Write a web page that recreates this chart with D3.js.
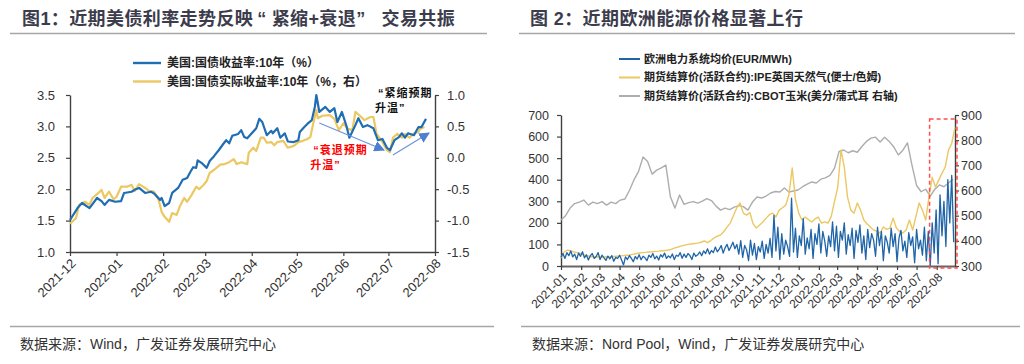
<!DOCTYPE html>
<html lang="zh">
<head>
<meta charset="UTF-8">
<title>美债利率与欧洲能源价格</title>
<script src="https://d3js.org/d3.v7.min.js"></script>
<style>
  body { margin: 0; background: #fff; }
  svg { display: block; font-family: "Liberation Sans", Arial, sans-serif; }
  .cjk { font-family: "Liberation Sans", "Noto Sans CJK SC", sans-serif; }
</style>
</head>
<body>
<div id="viz"></div>
<script>
// ---------- 图1：美国国债收益率（左轴）与实际收益率（右轴） ----------
const ust10y = [
  ["2021-12-01",1.51],["2021-12-06",1.70],["2021-12-09",1.78],["2021-12-14",1.70],["2021-12-19",1.86],
  ["2021-12-22",1.81],["2021-12-24",1.75],["2021-12-27",1.83],["2021-12-31",1.80],["2022-01-04",1.81],
  ["2022-01-06",1.94],["2022-01-11",1.96],["2022-01-13",1.99],["2022-01-16",2.02],["2022-01-20",1.94],
  ["2022-01-24",1.96],["2022-01-26",1.93],["2022-01-30",1.83],["2022-01-31",1.86],["2022-02-02",1.73],
  ["2022-02-05",1.78],["2022-02-07",1.94],["2022-02-11",2.02],["2022-02-14",2.15],["2022-02-17",2.18],
  ["2022-02-19",2.27],["2022-02-21",2.35],["2022-02-23",2.34],["2022-02-24",2.46],["2022-02-27",2.41],
  ["2022-03-02",2.34],["2022-03-04",2.45],["2022-03-07",2.53],["2022-03-10",2.62],["2022-03-13",2.72],
  ["2022-03-15",2.78],["2022-03-17",2.73],["2022-03-19",2.85],["2022-03-23",2.88],["2022-03-25",2.94],
  ["2022-03-27",2.83],["2022-03-29",2.81],["2022-04-01",2.89],["2022-04-04",2.97],["2022-04-06",3.12],
  ["2022-04-08",3.07],["2022-04-11",2.86],["2022-04-14",2.93],["2022-04-15",2.89],["2022-04-18",2.97],
  ["2022-04-20",2.82],["2022-04-23",2.89],["2022-04-25",2.76],["2022-04-29",2.75],["2022-05-02",2.78],
  ["2022-05-03",2.91],["2022-05-06",2.99],["2022-05-08",3.04],["2022-05-11",3.10],["2022-05-13",3.31],
  ["2022-05-14",3.50],["2022-05-16",3.23],["2022-05-20",3.31],["2022-05-23",3.23],["2022-05-26",3.29],
  ["2022-05-28",3.07],["2022-05-31",3.23],["2022-06-03",3.01],["2022-06-05",2.82],["2022-06-09",3.02],
  ["2022-06-11",3.13],["2022-06-14",2.99],["2022-06-17",3.02],["2022-06-21",2.97],["2022-06-24",2.78],
  ["2022-06-27",2.80],["2022-06-30",2.66],["2022-07-02",2.62],["2022-07-05",2.78],["2022-07-08",2.83],
  ["2022-07-10",2.89],["2022-07-12",2.82],["2022-07-14",2.89],["2022-07-18",2.86],["2022-07-21",2.99],
  ["2022-07-23",2.99],["2022-07-26",3.12]
];
const tipsReal10y = [
  ["2021-12-01",-1.05],["2021-12-05",-0.96],["2021-12-07",-0.75],["2021-12-11",-0.70],["2021-12-14",-0.75],
  ["2021-12-16",-0.64],["2021-12-20",-0.56],["2021-12-22",-0.51],["2021-12-24",-0.64],["2021-12-27",-0.54],
  ["2021-12-30",-0.66],["2022-01-01",-0.62],["2022-01-04",-0.46],["2022-01-08",-0.46],["2022-01-11",-0.43],
  ["2022-01-13",-0.53],["2022-01-16",-0.42],["2022-01-20",-0.48],["2022-01-23",-0.53],["2022-01-26",-0.54],
  ["2022-01-29",-0.67],["2022-01-31",-0.86],["2022-02-02",-0.94],["2022-02-05",-1.02],["2022-02-07",-0.88],
  ["2022-02-10",-0.91],["2022-02-12",-0.78],["2022-02-15",-0.64],["2022-02-17",-0.70],["2022-02-20",-0.59],
  ["2022-02-23",-0.46],["2022-02-25",-0.50],["2022-02-28",-0.43],["2022-03-02",-0.37],["2022-03-04",-0.24],
  ["2022-03-07",-0.19],["2022-03-11",-0.11],["2022-03-14",-0.10],["2022-03-17",-0.07],["2022-03-20",-0.02],
  ["2022-03-22",-0.10],["2022-03-25",-0.07],["2022-03-29",-0.10],["2022-03-30",0.08],["2022-04-02",0.16],
  ["2022-04-04",0.11],["2022-04-07",0.32],["2022-04-09",0.32],["2022-04-11",0.24],["2022-04-14",0.25],
  ["2022-04-16",0.20],["2022-04-18",0.25],["2022-04-22",0.27],["2022-04-25",0.16],["2022-04-29",0.19],
  ["2022-05-02",0.25],["2022-05-05",0.27],["2022-05-08",0.30],["2022-05-10",0.33],["2022-05-12",0.55],
  ["2022-05-14",0.76],["2022-05-15",0.63],["2022-05-18",0.67],["2022-05-23",0.68],["2022-05-26",0.62],
  ["2022-05-29",0.44],["2022-06-01",0.55],["2022-06-04",0.46],["2022-06-07",0.44],["2022-06-09",0.73],
  ["2022-06-12",0.67],["2022-06-15",0.60],["2022-06-19",0.65],["2022-06-21",0.65],["2022-06-23",0.39],
  ["2022-06-27",0.25],["2022-06-30",0.12],["2022-07-02",0.09],["2022-07-04",0.32],["2022-07-07",0.38],
  ["2022-07-10",0.32],["2022-07-12",0.38],["2022-07-15",0.32],["2022-07-18",0.39],["2022-07-21",0.41],
  ["2022-07-22",0.46],["2022-07-25",0.49]
];
const ticksL1 = [1.0, 1.5, 2.0, 2.5, 3.0, 3.5];
const ticksR1 = [-1.5, -1.0, -0.5, 0.0, 0.5, 1.0];
const names1 = ["美国:国债收益率:10年（%）", "美国:国债实际收益率:10年（%，右）"];

// ---------- 图2：欧洲能源价格 ----------
const seriesStart2 = "2021-01-01";
// 欧洲电力系统均价，每3天读一个点（左轴）
const powerStep = 3;
const power = [
  40,58,35,62,48,70,42,55,30,60,   45,66,38,52,28,47,58,35,44,62,
  30,50,38,26,46,33,48,22,40,35,   50,28,5,42,30,48,36,20,44,32,
  52,29,45,38,25,50,40,58,33,46,   28,52,42,60,35,47,38,56,30,50,
  45,62,36,55,40,58,48,30,60,45,   52,65,48,70,58,80,55,72,62,88,
  66,78,95,60,85,100,72,90,110,80, 100,55,118,40,95,75,25,120,50,105,
  30,90,65,115,35,100,60,128,40,235, 70,180,30,150,55,120,90,45,315,65,
  175,40,140,95,220,55,130,80,170,35, 150,100,195,60,160,115,45,140,90,205,
  70,185,40,160,120,200,55,145,95,175, 35,165,110,190,60,140,30,170,85,150,
  120,45,180,95,160,25,140,110,60,175, 90,150,20,130,165,70,115,40,155,95,
  135,15,170,80,120,50,180,25,160,0, 200,60,260,10,330,140,300,90,400,200,
  420,110
];
// IPE英国天然气，每5天读一个点（左轴）
const gasStep = 5;
const gas = [
  37,65,74,70,65,62,58,51,48,44, 42,43,42,41,43,42,44,45,46,48,
  50,51,54,57,60,62,63,65,66,68, 69,71,72,74,78,84,88,93,97,100,
  102,104,106,110,116,108,118,130,138,144, 160,180,199,235,270,292,245,236,248,195,
  176,190,204,222,238,245,227,259,270,282, 330,454,310,245,213,227,215,204,218,227,
  199,205,199,230,300,366,537,458,319,259, 245,292,259,213,195,181,167,160,153,181,
  170,176,222,176,160,153,167,213,167,230, 292,259,213,319,412,366,398,430,458,537,
  569,643
];
// CBOT玉米，每7天读一个点（右轴）
const cornStep = 7;
const corn = [
  483,500,530,548,554,562,542,554,548,556, 542,554,548,562,566,600,642,675,733,715,
  665,681,690,701,575,530,582,545,552,556, 550,558,568,560,538,522,530,524,534,540,
  536,522,554,574,570,578,590,596,594,610, 594,598,602,615,625,634,630,645,650,660,
  689,755,761,750,758,752,775,795,808,812, 793,812,795,773,741,760,789,700,620,595,
  605,578,605,622,615,630,645
];
const ticksL2 = [0, 100, 200, 300, 400, 500, 600, 700];
const ticksR2 = [300, 400, 500, 600, 700, 800, 900];
const names2 = [
  "欧洲电力系统均价(EUR/MWh)",
  "期货结算价(活跃合约):IPE英国天然气(便士/色姆)",
  "期货结算价(活跃合约):CBOT玉米(美分/蒲式耳 右轴)"
];

const parse = d3.timeParse("%Y-%m-%d");
const fromPairs = arr => arr.map(d => ({ date: parse(d[0]), value: d[1] }));
const fromSteps = (start, step, vals) =>
  vals.map((v, i) => ({ date: d3.timeDay.offset(parse(start), i * step), value: v }));

const svg = d3.select('#viz').append('svg')
  .attr('width', 1024).attr('height', 364)
  .style('background', '#fff');

// arrow marker for the annotations
svg.append('defs').append('marker')
    .attr('id', 'arrow')
    .attr('viewBox', '0 0 10 10')
    .attr('refX', 9).attr('refY', 5)
    .attr('markerWidth', 9).attr('markerHeight', 9)
    .attr('orient', 'auto')
  .append('path')
    .attr('d', 'M0,0 L10,5 L0,10 z')
    .attr('fill', '#4f7fd0');

// titles and frame lines
const titles = [
  { x: 22, parts: [['图1：近期美债利率走势反映', 0], ['“', 4], ['紧缩+衰退', 5], ['”', 0], ['交易共振', 16]], x1: 10, x2: 487 },
  { x: 530, parts: [['图 2：近期欧洲能源价格显著上行', 0]], x1: 519, x2: 1015 }
];
titles.forEach(t => {
  const tx = svg.append('text')
    .attr('class', 'cjk')
    .attr('x', t.x).attr('y', 25)
    .attr('font-size', 18).attr('font-weight', 'bold')
    .attr('letter-spacing', 0.4)
    .attr('fill', '#3c3c4c');
  t.parts.forEach(p => tx.append('tspan').attr('dx', p[1]).text(p[0]));
  svg.append('line')
    .attr('x1', t.x1).attr('x2', t.x2).attr('y1', 33.5).attr('y2', 33.5)
    .attr('stroke', '#a6a6a6').attr('stroke-width', 1.3);
});
const sources = [
  { x: 20, text: '数据来源：Wind，广发证券发展研究中心', x1: 10, x2: 494 },
  { x: 532, text: '数据来源：Nord Pool，Wind，广发证券发展研究中心', x1: 521, x2: 1020 }
];
sources.forEach(s => {
  svg.append('line')
    .attr('x1', s.x1).attr('x2', s.x2).attr('y1', 326.5).attr('y2', 326.5)
    .attr('stroke', '#a6a6a6').attr('stroke-width', 1.3);
  svg.append('text')
    .attr('class', 'cjk')
    .attr('x', s.x).attr('y', 349)
    .attr('font-size', 14).attr('fill', '#333')
    .text(s.text);
});

function styleAxis(g, size) {
  g.selectAll('path.domain').attr('stroke', '#404040').attr('stroke-width', 1.4);
  g.selectAll('.tick line').attr('stroke', '#404040').attr('stroke-width', 1.2);
  g.selectAll('.tick text')
    .attr('fill', '#333')
    .attr('font-size', size)
    .attr('font-family', '"Liberation Sans", Arial, sans-serif');
}
function rotateLabels(g) {
  g.selectAll('.tick text')
    .attr('text-anchor', 'end')
    .attr('x', 0).attr('y', 0).attr('dy', '0.35em')
    .attr('transform', 'translate(3,9) rotate(-45)');
}

// ================= 图1 =================
{
  const blue = fromPairs(ust10y), gold = fromPairs(tipsReal10y);
  const x = d3.scaleTime().domain([parse('2021-12-01'), parse('2022-08-01')]).range([70, 435]);
  const yL = d3.scaleLinear().domain([1.0, 3.5]).range([252, 95]);
  const yR = d3.scaleLinear().domain([-1.5, 1.0]).range([252, 95]);

  const gx = svg.append('g').attr('transform', 'translate(0,252)')
    .call(d3.axisBottom(x).ticks(d3.timeMonth.every(1)).tickFormat(d3.timeFormat('%Y-%m'))
      .tickSize(4).tickSizeOuter(0));
  styleAxis(gx, 13); rotateLabels(gx);

  const gl = svg.append('g').attr('transform', 'translate(70,0)')
    .call(d3.axisLeft(yL).tickValues(ticksL1).tickFormat(d => d.toFixed(1))
      .tickSize(4).tickPadding(11).tickSizeOuter(0));
  styleAxis(gl, 13);

  const gr = svg.append('g').attr('transform', 'translate(435,0)')
    .call(d3.axisRight(yR).tickValues(ticksR1).tickFormat(d => d.toFixed(1))
      .tickSize(4).tickPadding(8).tickSizeOuter(0));
  styleAxis(gr, 13);

  svg.append('path').datum(gold)
    .attr('fill', 'none').attr('stroke', '#ebc862').attr('stroke-width', 2.2)
    .attr('stroke-linejoin', 'round')
    .attr('d', d3.line().x(d => x(d.date)).y(d => yR(d.value)));
  svg.append('path').datum(blue)
    .attr('fill', 'none').attr('stroke', '#1f6db3').attr('stroke-width', 2.2)
    .attr('stroke-linejoin', 'round')
    .attr('d', d3.line().x(d => x(d.date)).y(d => yL(d.value)));

  // legend
  const legColors = ['#1f6db3', '#ebc862'];
  names1.forEach((n, i) => {
    const ly = 63 + i * 18.5;
    svg.append('line').attr('x1', 133).attr('x2', 161).attr('y1', ly).attr('y2', ly)
      .attr('stroke', legColors[i]).attr('stroke-width', 2.4);
    svg.append('text').attr('class', 'cjk')
      .attr('x', 167).attr('y', ly).attr('dy', '0.36em')
      .attr('font-size', 12).attr('font-weight', 'bold').attr('fill', '#222')
      .text(n);
  });

  // annotations
  const notes = [
    { d: '2022-06-24', v: 0.97, lines: ['“紧缩预期', '升温”'], color: '#111', dx: [0, -3] },
    { d: '2022-05-12', v: 0.06, lines: ['“衰退预期', '升温”'], color: '#ff0000', dx: [0, -3] }
  ];
  notes.forEach(n => {
    n.lines.forEach((l, i) => {
      svg.append('text').attr('class', 'cjk')
        .attr('x', x(parse(n.d)) + n.dx[i]).attr('y', yR(n.v) + i * 15)
        .attr('font-size', 11).attr('font-weight', 'bold').attr('fill', n.color)
        .attr('letter-spacing', 1)
        .text(l);
    });
  });
  const arrows = [
    [['2022-05-16', 0.555], ['2022-06-28', 0.124]],
    [['2022-07-04', 0.045], ['2022-07-28', 0.395]]
  ];
  arrows.forEach(a => {
    svg.append('line')
      .attr('x1', x(parse(a[0][0]))).attr('y1', yR(a[0][1]))
      .attr('x2', x(parse(a[1][0]))).attr('y2', yR(a[1][1]))
      .attr('stroke', '#6b95d8').attr('stroke-width', 1.2)
      .attr('marker-end', 'url(#arrow)');
  });
}

// ================= 图2 =================
{
  const pw = fromSteps(seriesStart2, powerStep, power);
  const gs = fromSteps(seriesStart2, gasStep, gas);
  const cn = fromSteps(seriesStart2, cornStep, corn);
  const x = d3.scaleTime().domain([parse('2021-01-01'), parse('2022-08-29')]).range([561, 955]);
  const yL = d3.scaleLinear().domain([0, 700]).range([266, 115]);
  const yR = d3.scaleLinear().domain([300, 900]).range([266, 115]);

  const gx = svg.append('g').attr('transform', 'translate(0,266)')
    .call(d3.axisBottom(x).ticks(d3.timeMonth.every(1)).tickFormat(d3.timeFormat('%Y-%m'))
      .tickSize(4).tickSizeOuter(0));
  styleAxis(gx, 12); rotateLabels(gx);
  gx.select('path.domain').attr('stroke', '#666').attr('stroke-width', 1.8);

  const gl = svg.append('g').attr('transform', 'translate(561,0)')
    .call(d3.axisLeft(yL).tickValues(ticksL2).tickSize(4).tickPadding(8).tickSizeOuter(0));
  styleAxis(gl, 12.5);

  const gr = svg.append('g').attr('transform', 'translate(955,0)')
    .call(d3.axisRight(yR).tickValues(ticksR2).tickSize(4).tickPadding(2).tickSizeOuter(0));
  styleAxis(gr, 12.5);

  const lineL = d3.line().x(d => x(d.date)).y(d => yL(d.value));
  const lineR = d3.line().x(d => x(d.date)).y(d => yR(d.value));
  const colors2 = ['#1f65a8', '#ebc862', '#adadad'];

  svg.append('path').datum(cn)
    .attr('fill', 'none').attr('stroke', colors2[2]).attr('stroke-width', 1.4)
    .attr('stroke-linejoin', 'round').attr('d', lineR);
  svg.append('path').datum(gs)
    .attr('fill', 'none').attr('stroke', colors2[1]).attr('stroke-width', 1.4)
    .attr('stroke-linejoin', 'round').attr('d', lineL);
  svg.append('path').datum(pw)
    .attr('fill', 'none').attr('stroke', colors2[0]).attr('stroke-width', 1.3)
    .attr('stroke-linejoin', 'round').attr('d', lineL);

  // red dashed highlight box
  const bx = x(parse('2022-07-21'));
  svg.append('rect')
    .attr('x', bx).attr('y', yR(884))
    .attr('width', 957 - bx).attr('height', 268 - yR(884))
    .attr('fill', 'none').attr('stroke', '#ff4d4d').attr('stroke-width', 1.5)
    .attr('stroke-dasharray', '4,3');

  names2.forEach((n, i) => {
    const ly = 59 + i * 18.5;
    svg.append('line').attr('x1', 619).attr('x2', 640).attr('y1', ly).attr('y2', ly)
      .attr('stroke', colors2[i]).attr('stroke-width', 2);
    svg.append('text').attr('class', 'cjk')
      .attr('x', 644).attr('y', ly).attr('dy', '0.36em')
      .attr('font-size', 11).attr('font-weight', 'bold').attr('fill', '#222')
      .text(n);
  });
}
</script>
</body>
</html>
